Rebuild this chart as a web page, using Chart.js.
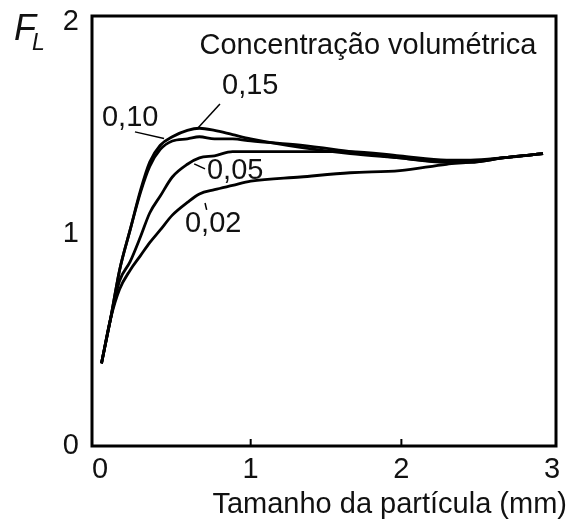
<!DOCTYPE html>
<html>
<head>
<meta charset="utf-8">
<script src="https://cdn.jsdelivr.net/npm/chart.js@4"></script>
<style>
  html, body { margin: 0; padding: 0; background: #fff; }
  #wrap { width: 575px; height: 521px; position: relative; }
</style>
</head>
<body>
<div id="wrap"><canvas id="chart-fl"></canvas></div>
<script>
// ─── Data ──────────────────────────────────────────────────
const particleSize = [0.01, 0.07, 0.13, 0.20, 0.27, 0.33, 0.40, 0.48, 0.58, 0.66,
                      0.76, 0.88, 1.00, 1.33, 1.66, 1.99, 2.30, 2.46, 2.67, 2.94];

const fl015 = [0.39, 0.60, 0.83, 1.02, 1.21, 1.34, 1.42, 1.46, 1.49, 1.50,
               1.49, 1.47, 1.45, 1.41, 1.38, 1.36, 1.34, 1.34, 1.36, 1.38];
const fl010 = [0.39, 0.60, 0.83, 1.02, 1.20, 1.32, 1.40, 1.44, 1.45, 1.46,
               1.45, 1.45, 1.44, 1.42, 1.39, 1.36, 1.34, 1.34, 1.36, 1.38];
const fl005 = [0.39, 0.60, 0.78, 0.87, 0.99, 1.10, 1.18, 1.27, 1.33, 1.36,
               1.37, 1.39, 1.39, 1.39, 1.39, 1.37, 1.35, 1.35, 1.36, 1.38];
const fl002 = [0.39, 0.60, 0.74, 0.83, 0.90, 0.96, 1.02, 1.09, 1.15, 1.19,
               1.21, 1.23, 1.25, 1.27, 1.29, 1.30, 1.33, 1.34, 1.36, 1.38];

const xTicks = [0, 1, 2, 3];
const yTicks = [0, 1, 2];

const concLabels = ['0,15', '0,10', '0,05', '0,02'];
const seriesValues = [fl015, fl010, fl005, fl002];

// curve labels (data coords) and their leader lines
const curveNotes = [
  { text: '0,15', x: 0.81,  y: 1.70, lead: [[0.796, 1.615], [0.650, 1.501]] },
  { text: '0,10', x: 0.013, y: 1.55, lead: [[0.232, 1.483], [0.425, 1.452]] },
  { text: '0,05', x: 0.71,  y: 1.30, lead: [[0.625, 1.332], [0.697, 1.308]] },
  { text: '0,02', x: 0.564, y: 1.05, lead: [[0.697, 1.147], [0.708, 1.115]] },
];

const FONT = "'Liberation Sans', Arial, sans-serif";
const INK  = '#111';
const TXT  = 29;

function noEdgePadding(s) {
  s.paddingTop = 0; s.paddingBottom = 0;
  s.paddingLeft = 0; s.paddingRight = 0;
}

// ─── Frame, tick marks and annotations ─────────────────────
const figureDecor = {
  id: 'figureDecor',
  afterDatasetsDraw(chart) {
    const { ctx, chartArea: a, scales: { x, y } } = chart;
    ctx.save();

    // box round the plot
    ctx.strokeStyle = '#000';
    ctx.lineWidth = 3;
    ctx.strokeRect(a.left, a.top, a.right - a.left, a.bottom - a.top);

    // small inward ticks on the x axis
    ctx.lineWidth = 2;
    x.ticks.slice(1, -1).forEach(t => {
      const px = x.getPixelForValue(t.value);
      ctx.beginPath();
      ctx.moveTo(px, a.bottom);
      ctx.lineTo(px, a.bottom - 7);
      ctx.stroke();
    });

    // leader lines
    ctx.lineWidth = 1.5;
    curveNotes.forEach(n => {
      ctx.beginPath();
      ctx.moveTo(x.getPixelForValue(n.lead[0][0]), y.getPixelForValue(n.lead[0][1]));
      ctx.lineTo(x.getPixelForValue(n.lead[1][0]), y.getPixelForValue(n.lead[1][1]));
      ctx.stroke();
    });

    // texts
    ctx.fillStyle = INK;
    ctx.textBaseline = 'middle';
    ctx.textAlign = 'left';
    ctx.font = `${TXT}px ${FONT}`;
    curveNotes.forEach(n => {
      ctx.fillText(n.text, x.getPixelForValue(n.x), y.getPixelForValue(n.y));
    });
    ctx.fillText('Concentração volumétrica', x.getPixelForValue(0.66), y.getPixelForValue(1.89));

    // axis title
    ctx.textAlign = 'right';
    ctx.fillText('Tamanho da partícula (mm)', a.right + 11, a.bottom + 59);

    // F_L
    ctx.textAlign = 'left';
    ctx.textBaseline = 'alphabetic';
    ctx.font = `italic 36px ${FONT}`;
    ctx.fillText('F', a.left - 78, a.top + 24);
    ctx.font = `italic 23px ${FONT}`;
    ctx.fillText('L', a.left - 60, a.top + 34);

    ctx.restore();
  },
};

new Chart(document.getElementById('chart-fl'), {
  type: 'line',
  data: {
    datasets: concLabels.map((c, i) => ({
      label: c,
      data: particleSize.map((d, k) => ({ x: d, y: seriesValues[i][k] })),
      borderColor: '#000',
      borderWidth: 2.8,
      pointRadius: 0,
      fill: false,
      cubicInterpolationMode: 'monotone',
    })),
  },
  options: {
    responsive: true,
    maintainAspectRatio: false,
    animation: false,
    layout: { padding: { top: 16, right: 19, bottom: 0, left: 0 } },
    plugins: { legend: { display: false }, tooltip: { enabled: false } },
    scales: {
      x: {
        type: 'linear',
        min: -0.053,
        max: 3.026,
        afterBuildTicks: s => { s.ticks = xTicks.map(v => ({ value: v })); },
        afterFit: s => { s.height = 75; noEdgePadding(s); },
        grid: { display: false, drawTicks: false },
        border: { display: false },
        ticks: {
          color: INK,
          padding: 7,
          font: { size: TXT, family: FONT },
          callback: v => String(v),
        },
      },
      y: {
        type: 'linear',
        min: 0,
        max: 2.03,
        afterBuildTicks: s => { s.ticks = yTicks.map(v => ({ value: v })); },
        afterFit: s => { s.width = 92; noEdgePadding(s); },
        grid: { display: false, drawTicks: false },
        border: { display: false },
        ticks: {
          color: INK,
          padding: 13,
          font: { size: TXT, family: FONT },
          callback: v => String(v),
        },
      },
    },
  },
  plugins: [figureDecor],
});
</script>
</body>
</html>
